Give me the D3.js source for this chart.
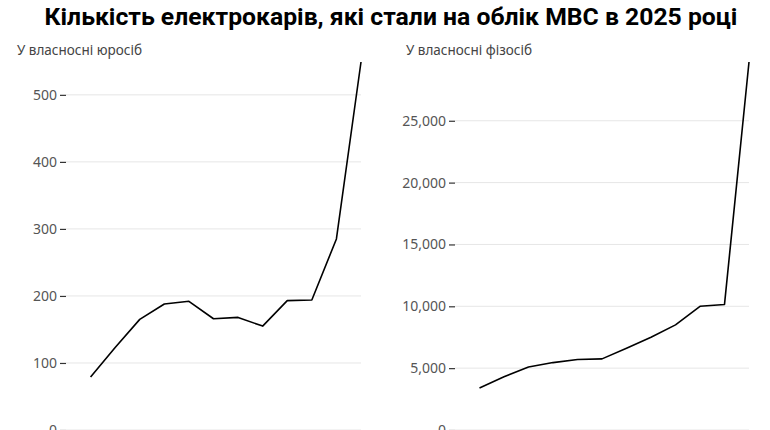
<!DOCTYPE html>
<html>
<head>
<meta charset="utf-8">
<script src="https://cdn.jsdelivr.net/npm/d3@7"></script>
<style>
  body { margin: 0; background: #fff; }
  svg { display: block; }
</style>
</head>
<body>
<div id="chart"></div>
<script>
// monthly registrations, 2025
const months = ["січ", "лют", "бер", "кві", "тра", "чер", "лип", "сер", "вер", "жов", "лис", "гру"]
const legalEntities = [79, 123, 165, 188, 192, 166, 168, 155, 193, 194, 285, 549]
const individuals = [3400, 4300, 5100, 5450, 5700, 5750, 6600, 7500, 8500, 10000, 10150, 29750]
const titleText = "Кількість електрокарів, які стали на облік МВС в 2025 році"
const panelTitles = ["У власносні юросіб", "У власносні фізосіб"]

const W = 770, H = 430

const svg = d3.select("#chart")
  .append("svg")
    .attr("width", W)
    .attr("height", H)

// title
const title = svg.append("text")
    .attr("x", 391)
    .attr("y", 25)
    .attr("text-anchor", "middle")
    .style("font-family", "Roboto, 'Open Sans', sans-serif")
    .style("font-weight", 700)
    .style("font-size", "26px")
    .style("fill", "#000")
    .text(titleText)

// squeeze the title to the width it has in the original
const want = 693
const got = title.node().getComputedTextLength()
if (got > want) title.style("font-size", (26 * want / got) + "px")

function panel(values, left, right, label, fmt) {
  const top = 62, bottom = 430

  const x = d3.scaleLinear()
    .domain([0, values.length])
    .range([left, right])

  const y = d3.scaleLinear()
    .domain([0, d3.max(values)])
    .range([bottom, top])

  const g = svg.append("g")

  // grid
  g.append("g")
    .selectAll("line")
    .data(y.ticks(5))
    .enter()
    .append("line")
      .attr("x1", left)
      .attr("x2", right)
      .attr("y1", d => y(d))
      .attr("y2", d => y(d))
      .style("stroke", "#e6e6e6")
      .style("stroke-width", 1)

  const yAxis = g.append("g")
    .attr("transform", "translate(" + left + ",0)")
    .call(d3.axisLeft(y).ticks(5).tickSize(6).tickPadding(3).tickFormat(fmt))

  yAxis.select(".domain").remove()
  yAxis.selectAll(".tick line").attr("stroke", "#333").attr("stroke-width", 1.2)
  yAxis.selectAll("text")
    .attr("fill", "#555")
    .style("font-family", "'Noto Sans', sans-serif")
    .style("font-size", "14px")

  g.append("text")
    .attr("x", left - 49)
    .attr("y", 55)
    .style("font-family", "'Noto Sans', sans-serif")
    .style("font-size", "13.5px")
    .style("fill", "#444")
    .text(label)

  const line = d3.line()
    .x((d, i) => x(i + 1))
    .y(d => y(d))

  g.append("path")
    .datum(values)
    .attr("d", line)
    .style("fill", "none")
    .style("stroke", "#000")
    .style("stroke-width", 1.6)
    .style("stroke-linejoin", "round")
}

panel(legalEntities, 66, 361, panelTitles[0], d3.format("d"))
panel(individuals, 455, 749, panelTitles[1], d3.format(","))
</script>
</body>
</html>
